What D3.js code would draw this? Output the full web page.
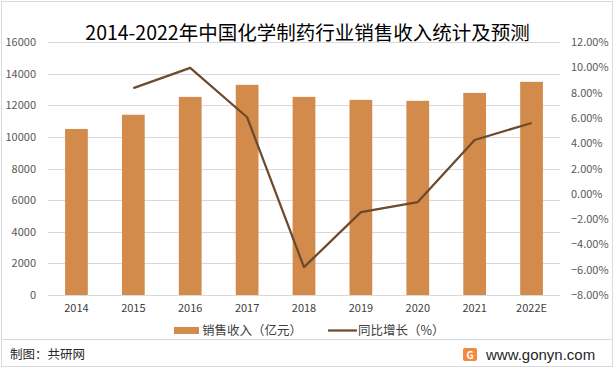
<!DOCTYPE html>
<html>
<head>
<meta charset="utf-8">
<script src="https://cdn.jsdelivr.net/npm/d3@7"></script>
<style>
body { margin: 0; background: #fff; }
text { font-family: "Microsoft YaHei", "Noto Sans CJK SC", sans-serif; }
</style>
</head>
<body>
<svg id="chart"></svg>
<script>
var width = 614, height = 371;
var margin = {top: 42, right: 54, bottom: 76, left: 48};

var years = ["2014", "2015", "2016", "2017", "2018", "2019", "2020", "2021", "2022E"];
var revenue = [10500, 11400, 12530, 13290, 12530, 12340, 12280, 12780, 13480];
var growth = [null, 8.35, 9.95, 6.05, -5.8, -1.45, -0.65, 4.25, 5.6];
var leftTicks = [0, 2000, 4000, 6000, 8000, 10000, 12000, 14000, 16000];
var rightTicks = [-8, -6, -4, -2, 0, 2, 4, 6, 8, 10, 12];

var svg = d3.select("#chart").attr("width", width).attr("height", height);

// outer border
svg.append("rect").attr("x", 1.5).attr("y", 1.5).attr("width", width - 3).attr("height", 365)
  .attr("fill", "#fff").attr("stroke", "#d9d9d9");

var x = d3.scaleBand().domain(years).range([margin.left, width - margin.right]).paddingInner(0.6).paddingOuter(0.3);
var y = d3.scaleLinear().domain([0, 16000]).range([height - margin.bottom, margin.top]);
var y2 = d3.scaleLinear().domain([-8, 12]).range([height - margin.bottom, margin.top]);

// gridlines
svg.append("g").selectAll("line").data(leftTicks).enter().append("line")
  .attr("x1", margin.left).attr("x2", width - margin.right)
  .attr("y1", function(d) { return Math.round(y(d)) + 0.5; })
  .attr("y2", function(d) { return Math.round(y(d)) + 0.5; })
  .attr("stroke", "#d9d9d9").attr("stroke-width", 1);

// left axis
var yAxis = svg.append("g").attr("transform", "translate(" + (margin.left - 12) + ",0)")
  .call(d3.axisLeft(y).tickValues(leftTicks).tickSize(0).tickPadding(0).tickFormat(d3.format("d")));
yAxis.select(".domain").remove();
yAxis.selectAll("text").attr("fill", "#595959").style("font-size", "11px");

// right axis
var y2Axis = svg.append("g").attr("transform", "translate(" + (width - margin.right + 11) + ",0)")
  .call(d3.axisRight(y2).tickValues(rightTicks).tickSize(0).tickPadding(0)
    .tickFormat(function(d) { return d3.format(".2f")(d) + "%"; }));
y2Axis.select(".domain").remove();
y2Axis.selectAll("text").attr("fill", "#595959").style("font-size", "11px");

// bars
svg.append("g").selectAll("rect").data(years).enter().append("rect")
  .attr("x", function(d) { return x(d); })
  .attr("width", x.bandwidth())
  .attr("y", function(d, i) { return y(revenue[i]); })
  .attr("height", function(d, i) { return y(0) - y(revenue[i]); })
  .attr("fill", "#D38B4C");

// baseline
svg.append("line").attr("x1", margin.left).attr("x2", width - margin.right)
  .attr("y1", Math.round(y(0)) + 0.5).attr("y2", Math.round(y(0)) + 0.5)
  .attr("stroke", "#d9d9d9");

// x labels
var xAxis = svg.append("g").attr("transform", "translate(0," + (y(0) + 9) + ")")
  .call(d3.axisBottom(x).tickSize(0).tickPadding(0));
xAxis.select(".domain").remove();
xAxis.selectAll("text").attr("fill", "#404040").style("font-size", "11px").attr("dy", "0.71em");

// growth line
var line = d3.line()
  .defined(function(d) { return d.v !== null; })
  .x(function(d) { return x(d.k) + x.bandwidth() / 2; })
  .y(function(d) { return y2(d.v); });
svg.append("path")
  .datum(years.map(function(k, i) { return {k: k, v: growth[i]}; }))
  .attr("d", line)
  .attr("fill", "none").attr("stroke", "#6B4A2E").attr("stroke-width", 2.25)
  .attr("stroke-linejoin", "round");

// title
svg.append("text").attr("x", 307.5).attr("y", 40).attr("text-anchor", "middle")
  .style("font-size", "19.5px").attr("fill", "#000")
  .text("2014-2022年中国化学制药行业销售收入统计及预测");

// legend
var lg = svg.append("g");
lg.append("rect").attr("x", 174).attr("y", 327).attr("width", 25).attr("height", 7).attr("fill", "#D38B4C");
lg.append("text").attr("x", 202).attr("y", 335).style("font-size", "12.5px").attr("fill", "#404040").text("销售收入（亿元）");
lg.append("line").attr("x1", 328).attr("x2", 357).attr("y1", 330.5).attr("y2", 330.5)
  .attr("stroke", "#6B4A2E").attr("stroke-width", 2.25);
lg.append("text").attr("x", 358).attr("y", 335).style("font-size", "12.5px").attr("fill", "#404040").text("同比增长（%）");

// footer
svg.append("line").attr("x1", 2).attr("x2", 612).attr("y1", 339.5).attr("y2", 339.5).attr("stroke", "#d9d9d9");
svg.append("text").attr("x", 10).attr("y", 359).style("font-size", "12.5px").attr("fill", "#262626").text("制图：共研网");
var logo = svg.append("g").attr("transform", "translate(463,348)");
logo.append("rect").attr("width", 14).attr("height", 13).attr("rx", 2).attr("fill", "#F08A3C");
logo.append("text").attr("x", 7).attr("y", 10.5).attr("text-anchor", "middle")
  .style("font-size", "10px").style("font-weight", "bold").attr("fill", "#fff").text("G");
svg.append("text").attr("x", 486).attr("y", 360).style("font-size", "15px").attr("fill", "#262626")
  .style("font-family", "Arial, 'Liberation Sans', sans-serif").text("www.gonyn.com");
</script>
</body>
</html>
